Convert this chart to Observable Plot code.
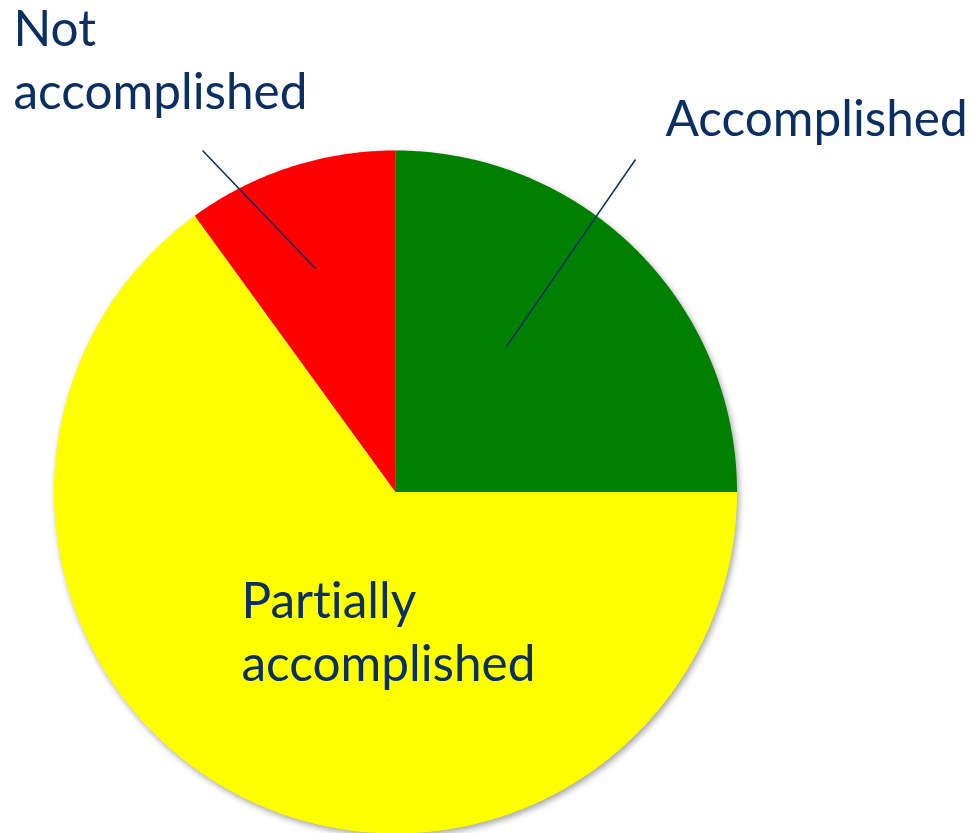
<!DOCTYPE html>
<html>
<head>
<meta charset="utf-8">
<script src="https://cdn.jsdelivr.net/npm/d3@7"></script>
<script src="https://cdn.jsdelivr.net/npm/@observablehq/plot@0.6"></script>
<style>
  html, body { margin: 0; padding: 0; background: #ffffff; }
  #chart svg { display: block; }
  #chart text, #chart tspan { font-variant-ligatures: none; font-feature-settings: "liga" 0, "clig" 0; }
</style>
</head>
<body>
<div id="chart"></div>
<script>
// ---- data ----
const categories = ["Accomplished", "Partially accomplished", "Not accomplished"];
const values = [25, 65, 10];
const sliceColors = ["#008000", "#ffff00", "#ff0000"];
const labelTexts = ["Accomplished", "Partially\naccomplished", "Not\naccomplished"];

// ---- layout (pixels) ----
const W = 972, H = 833;
const cx = 395, cy = 491.5, R = 341.5;
const labelPos = [[665, 135], [241, 680], [13, 108]];        // left, baseline of last line
const leaderPos = [[635, 159, 506, 346], null, [202, 150, 315, 268]];
const textColor = "#0b2f62";

const px = x => (x - cx) / R;
const py = y => (cy - y) / R;

// ---- wedges built from the values via d3.pie ----
const arcs = d3.pie().sort(null).value(d => d)(values);
const wedge = [];
arcs.forEach((a, i) => {
  const base = {cat: categories[i], color: sliceColors[i]};
  wedge.push({...base, x: 0, y: 0});
  const n = Math.max(2, Math.ceil((a.endAngle - a.startAngle) / (Math.PI / 360)));
  for (let k = 0; k <= n; k++) {
    const t = a.startAngle + (a.endAngle - a.startAngle) * k / n;
    wedge.push({...base, x: Math.sin(t), y: Math.cos(t)});
  }
  wedge.push({...base, x: 0, y: 0});
});

const labels = labelTexts.map((t, i) => ({text: t, x: px(labelPos[i][0]), y: py(labelPos[i][1])}));
const leaders = leaderPos.filter(d => d).map(d => ({x1: px(d[0]), y1: py(d[1]), x2: px(d[2]), y2: py(d[3])}));

const chart = Plot.plot({
  width: W,
  height: H,
  margin: 0,
  x: {domain: [px(0), px(W)], axis: null},
  y: {domain: [py(H), py(0)], axis: null},
  color: {type: "identity"},
  style: {fontFamily: "Lato, 'Open Sans', sans-serif", background: "#ffffff", overflow: "visible"},
  marks: [
    Plot.line(wedge, {x: "x", y: "y", z: "cat", fill: "color", stroke: null, curve: "linear",
      imageFilter: "drop-shadow(2px 3px 3px rgba(0,0,0,0.35))"}),
    Plot.link(leaders, {x1: "x1", y1: "y1", x2: "x2", y2: "y2", stroke: textColor, strokeWidth: 1.5}),
    Plot.text(labels, {x: "x", y: "y", text: "text", textAnchor: "start", lineAnchor: "bottom",
      fontSize: 49.5, lineHeight: 63 / 49.5, fill: textColor})
  ]
});
document.getElementById("chart").appendChild(chart);
</script>
</body>
</html>
